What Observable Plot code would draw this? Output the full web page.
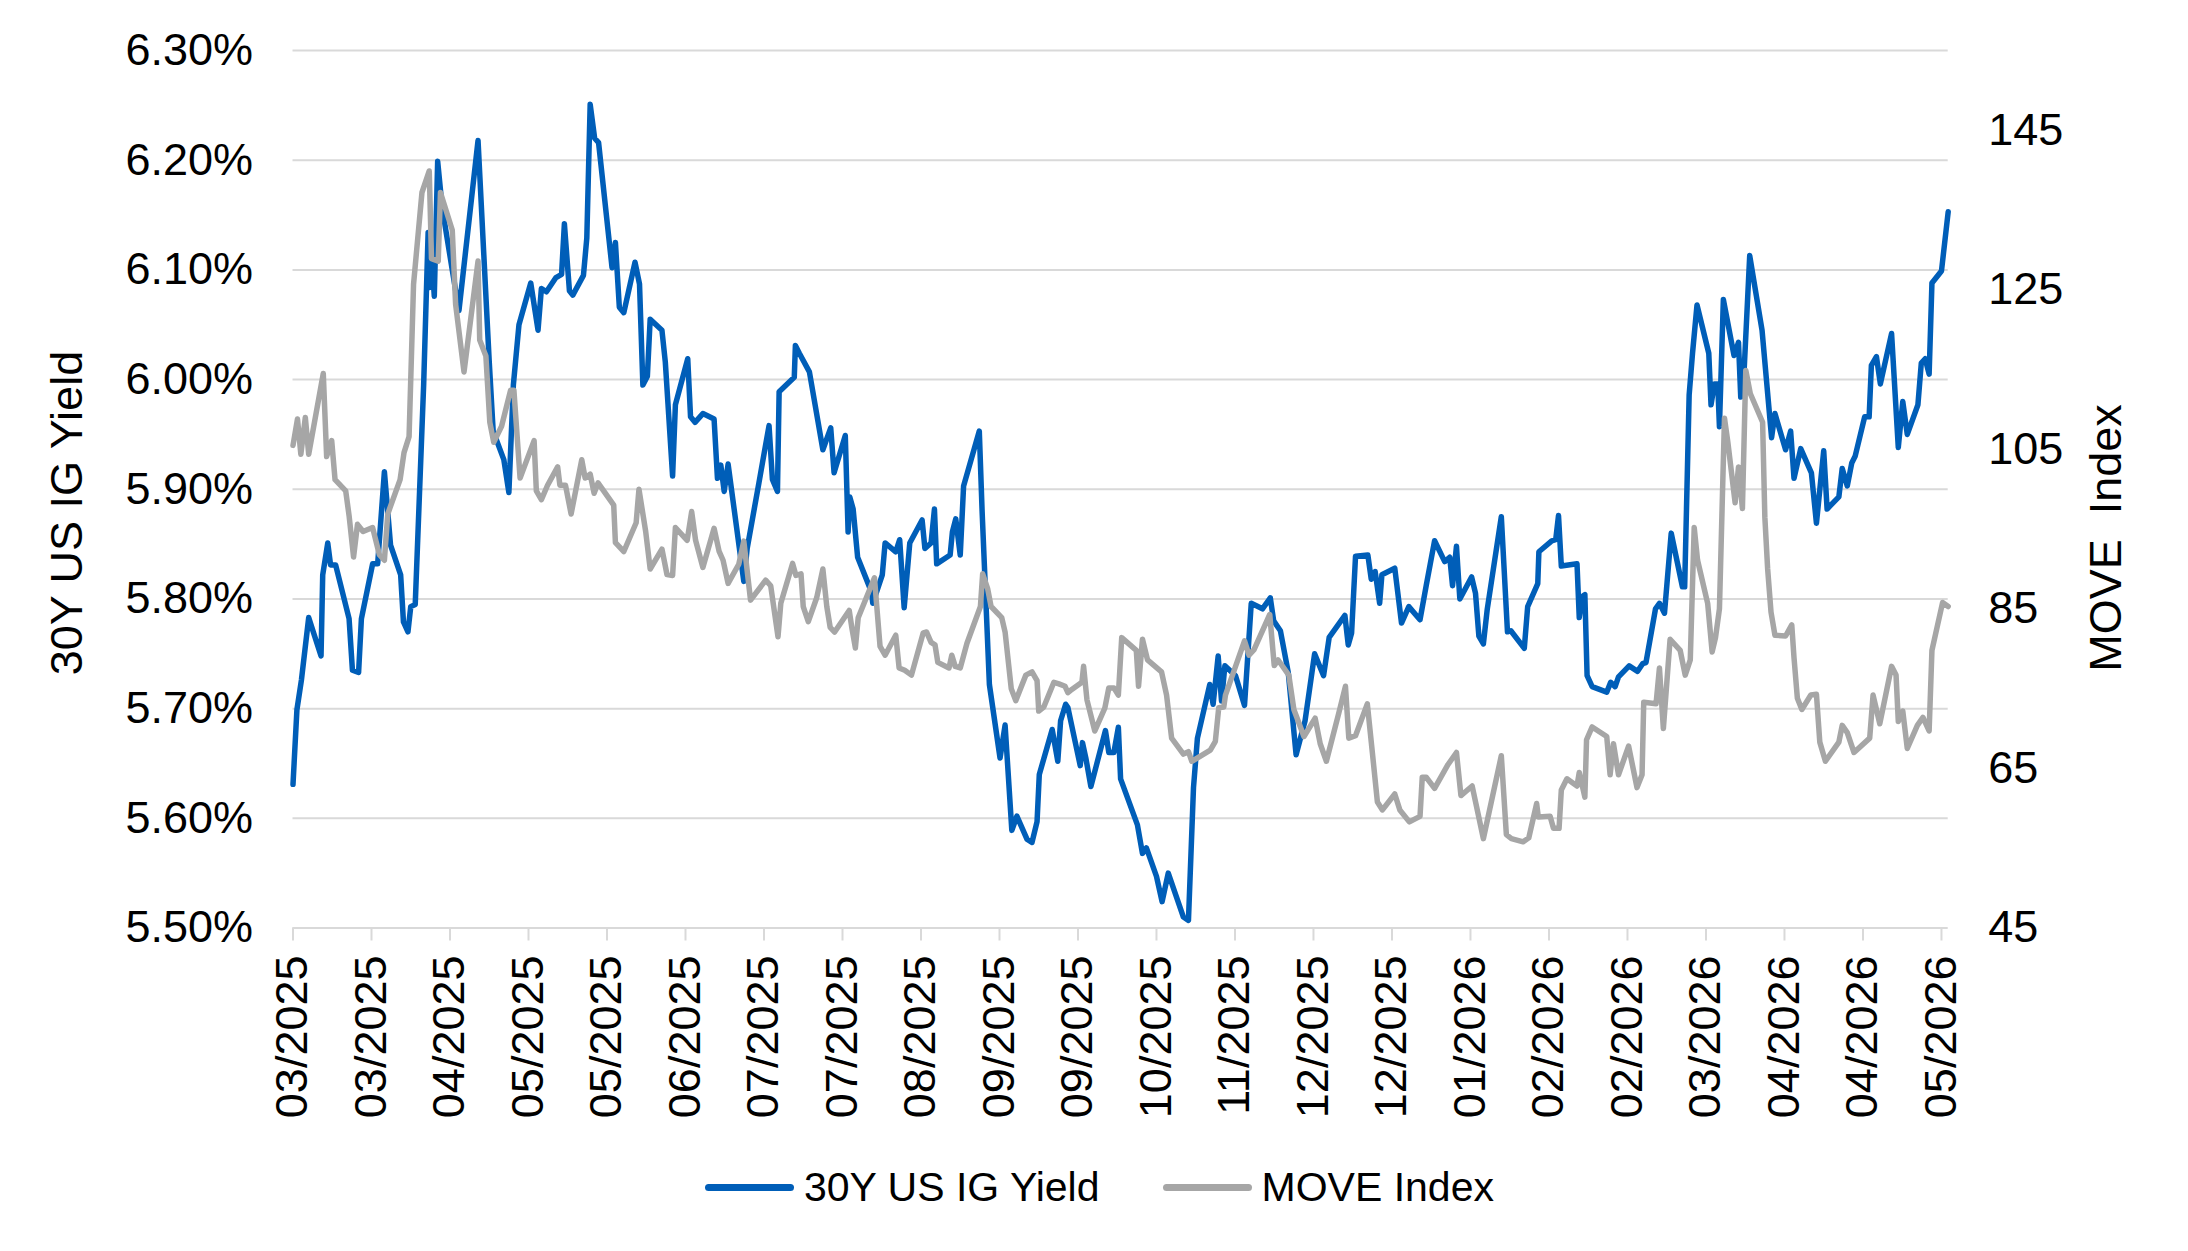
<!DOCTYPE html>
<html>
<head>
<meta charset="utf-8">
<script src="https://cdn.jsdelivr.net/npm/d3@7"></script>
<script src="https://cdn.jsdelivr.net/npm/@observablehq/plot@0.6"></script>
<style>
  html, body { margin: 0; padding: 0; background: #fff; }
  body { width: 2188px; height: 1251px; overflow: hidden; font-family: "Liberation Sans", Arial, sans-serif; }
  #legend { height: 74px; display: flex; align-items: center; padding-left: 705px; font-size: 41px; color: #000; }
  .item { display: flex; align-items: center; }
  .sw { display: inline-block; width: 89px; height: 7px; border-radius: 3.5px; margin-right: 10px; }
</style>
</head>
<body>
<div id="chart"></div>
<div id="legend"></div>
<script>
// ---- Data (trading-day index along the category axis) ----
const tickLabels = ["03/2025","03/2025","04/2025","05/2025","05/2025","06/2025","07/2025","07/2025","08/2025","09/2025","09/2025","10/2025","11/2025","12/2025","12/2025","01/2026","02/2026","02/2026","03/2026","04/2026","04/2026","05/2026"];
const tickDays = [0,14,28,42,56,70,84,98,112,126,140,154,168,182,196,210,224,238,252,266,280,294];
const yieldTicks = [5.5,5.6,5.7,5.8,5.9,6.0,6.1,6.2,6.3];
const moveTicks = [45,65,85,105,125,145];

const igDay = [0,0.7,1.5,2.8,5.0,5.3,6.2,6.7,7.6,10.0,10.6,11.7,12.2,14.2,15.1,16.3,17.4,19.2,19.7,20.5,21.0,21.8,23.3,24.1,24.4,24.8,25.2,25.8,26.6,28.4,29.6,33.0,35.0,35.7,37.6,38.5,39.3,40.3,42.4,43.7,44.3,45.2,46.9,47.9,48.4,49.3,49.9,51.8,52.4,53.0,53.8,54.5,56.9,57.5,58.2,59.0,61.0,61.8,62.4,63.2,63.7,65.8,66.4,67.7,68.2,70.4,70.9,71.7,73.1,75.1,75.7,76.3,76.9,77.6,80.4,81.0,83.1,84.9,85.5,86.4,86.7,89.4,89.6,90.3,92.1,94.5,95.9,96.5,98.5,99.0,99.3,99.9,100.7,103.2,103.4,105.1,105.6,107.5,108.2,109.0,110.0,112.2,112.7,113.8,114.4,114.8,117.2,117.6,118.2,119.0,119.6,122.4,122.9,124.2,126.1,127.0,128.2,129.1,130.9,131.8,132.7,133.1,135.4,136.4,136.9,137.8,138.2,140.4,140.8,141.4,142.3,144.9,145.5,146.4,147.2,147.6,150.6,151.5,152.2,154.0,155.0,156.1,158.8,159.7,160.6,161.3,163.5,164.1,165.0,165.6,166.2,168.1,169.7,170.9,172.9,174.3,174.9,176.1,177.5,178.9,180.5,182.2,183.8,184.8,187.6,188.2,188.8,189.5,191.7,192.3,193.0,193.8,194.2,196.5,197.7,199.0,201.0,202.1,203.6,205.4,206.3,206.8,207.5,208.1,210.2,210.9,211.5,212.3,213.0,215.5,216.6,217.2,219.6,220.2,222.0,222.2,224.5,225.2,225.7,226.2,229.0,229.4,229.9,230.4,230.8,231.7,234.3,235.0,235.8,236.4,238.3,239.8,240.7,241.3,243.0,243.7,244.6,245.8,247.8,248.2,249.0,249.6,250.4,252.5,252.9,253.5,254.1,254.4,255.1,257.0,257.8,258.2,258.8,259.8,262.0,263.7,264.3,266.2,267.1,267.7,268.9,270.8,271.7,273.0,273.6,275.7,276.3,277.2,278.0,278.6,280.3,281.1,281.5,282.4,283.1,285.1,286.3,287.1,287.9,289.8,290.4,291.1,291.8,292.3,294.0,295.2];
const igYield = [5.631,5.699,5.726,5.783,5.748,5.822,5.851,5.831,5.831,5.782,5.735,5.733,5.782,5.832,5.832,5.916,5.849,5.822,5.779,5.770,5.793,5.795,5.995,6.134,6.084,6.108,6.076,6.199,6.157,6.100,6.063,6.218,6.016,5.953,5.927,5.897,5.995,6.050,6.088,6.045,6.083,6.080,6.093,6.096,6.142,6.081,6.077,6.095,6.129,6.251,6.220,6.216,6.102,6.125,6.066,6.061,6.107,6.087,5.995,6.003,6.055,6.045,6.016,5.912,5.977,6.019,5.966,5.961,5.969,5.964,5.910,5.922,5.898,5.923,5.816,5.846,5.906,5.958,5.909,5.898,5.989,6.002,6.031,6.024,6.007,5.936,5.956,5.915,5.949,5.861,5.893,5.882,5.838,5.806,5.796,5.822,5.851,5.843,5.854,5.792,5.851,5.872,5.846,5.851,5.882,5.832,5.840,5.861,5.873,5.840,5.903,5.953,5.880,5.722,5.655,5.685,5.589,5.602,5.581,5.578,5.597,5.640,5.681,5.652,5.689,5.704,5.701,5.648,5.669,5.655,5.629,5.680,5.660,5.660,5.683,5.636,5.594,5.568,5.573,5.547,5.524,5.550,5.510,5.507,5.628,5.673,5.722,5.704,5.748,5.707,5.739,5.730,5.703,5.796,5.791,5.801,5.780,5.771,5.733,5.658,5.689,5.750,5.730,5.765,5.785,5.758,5.769,5.839,5.840,5.818,5.825,5.796,5.822,5.828,5.778,5.793,5.781,5.812,5.853,5.834,5.838,5.812,5.848,5.800,5.820,5.805,5.766,5.759,5.791,5.875,5.770,5.771,5.755,5.793,5.814,5.843,5.853,5.854,5.876,5.830,5.832,5.783,5.802,5.804,5.730,5.720,5.715,5.724,5.720,5.729,5.739,5.734,5.741,5.742,5.791,5.796,5.787,5.860,5.811,5.811,5.986,6.024,6.068,6.024,5.977,5.996,5.996,5.957,6.073,6.022,6.034,5.984,6.008,6.113,6.045,5.947,5.969,5.936,5.953,5.910,5.937,5.915,5.869,5.935,5.882,5.893,5.919,5.903,5.924,5.930,5.966,5.966,6.013,6.021,5.996,6.042,5.938,5.980,5.950,5.977,6.015,6.019,6.005,6.088,6.099,6.153];

const moveDay = [0,0.8,1.4,2.2,2.8,5.4,6.0,6.9,7.5,9.4,10.0,10.8,11.5,12.5,14.2,15.4,16.3,16.9,19.1,19.8,20.7,21.5,23.0,24.3,24.7,25.9,26.3,28.4,29.0,30.5,33.0,33.3,34.4,35.1,35.8,37.2,38.8,39.4,40.5,43.0,43.4,44.3,45.4,47.2,47.6,48.6,49.6,51.5,52.1,53.0,53.7,54.4,57.2,57.5,59.0,61.2,61.7,62.9,63.7,65.8,66.7,67.7,68.2,70.3,71.1,71.8,73.1,75.1,76.0,76.7,77.6,79.5,80.4,81.6,84.3,85.2,86.5,87.0,89.1,89.7,90.6,91.0,91.9,93.4,94.5,95.2,95.8,96.6,99.2,99.7,100.3,100.8,103.7,104.7,105.6,107.5,108.1,109.1,110.3,112.4,113.0,113.8,114.5,115.0,117.0,117.5,118.1,119.0,120.2,122.6,123.0,123.9,124.5,126.4,127.0,128.1,128.9,130.7,131.8,132.7,133.0,133.9,135.7,136.6,137.7,138.2,138.9,140.7,141.0,141.6,143.0,144.8,145.5,146.4,147.2,147.8,150.4,150.8,151.5,152.4,154.9,155.8,156.7,158.8,159.7,160.3,163.6,164.5,165.1,166.0,166.3,168.1,169.7,170.5,171.4,174.2,175.0,175.7,177.6,178.5,180.3,182.3,183.2,184.3,186.5,187.7,188.3,189.5,191.6,192.5,193.4,194.3,196.5,197.4,199.1,201.0,201.4,202.1,203.6,206.0,207.5,208.3,210.3,212.3,215.5,216.4,217.3,219.4,220.4,221.8,222.1,224.2,224.8,225.8,226.2,227.2,229.0,229.4,230.4,230.7,231.7,234.3,234.9,235.5,236.4,238.2,239.7,240.6,240.9,243.1,243.7,244.4,245.6,247.4,248.3,249.2,249.9,250.5,252.3,253.1,253.7,254.4,255.3,255.9,257.2,257.8,258.5,259.1,259.9,262.1,262.5,263.0,263.6,264.3,266.2,267.3,267.7,268.3,269.1,270.7,271.7,272.3,273.3,275.7,276.3,277.2,278.4,281.2,281.8,283.0,285.1,285.9,286.3,287.1,287.9,289.7,290.7,291.8,292.3,294.2,295.2];
const moveValue = [105.5,108.8,104.4,109.0,104.4,114.5,104.1,106.1,101.2,99.8,96.7,91.5,95.6,94.7,95.2,91.8,91.1,96.9,101.2,104.6,106.6,125.7,137.2,139.9,128.9,128.6,137.2,132.5,123.2,114.7,128.6,118.7,116.7,108.4,105.9,107.9,112.4,112.4,101.4,106.1,99.8,98.7,100.5,102.8,100.5,100.5,96.9,103.7,101.4,101.9,99.5,100.8,98.0,93.3,92.2,95.8,100.0,94.7,90.0,92.5,89.3,89.2,95.2,93.6,97.2,93.6,90.2,95.1,92.2,91.1,88.2,90.6,93.5,86.1,88.6,87.9,81.5,85.7,90.7,89.2,89.4,85.3,83.4,86.4,90.0,85.3,82.7,82.1,84.8,82.5,80.1,83.9,88.9,80.3,79.2,81.7,77.6,77.3,76.7,82.0,82.1,80.8,80.5,78.3,77.6,79.2,77.8,77.6,80.7,85.3,89.4,87.5,85.3,83.9,82.1,75.0,73.5,76.7,77.1,76.0,72.2,72.7,75.8,75.6,75.3,74.5,74.9,75.8,77.8,73.6,69.7,72.6,75.1,75.1,74.2,81.4,79.8,75.3,81.2,78.6,77.1,74.2,68.8,66.8,67.1,65.9,67.3,68.4,72.6,72.7,74.2,77.8,81.0,79.2,79.9,84.3,77.9,78.6,76.7,72.4,69.0,71.3,68.1,65.9,71.9,75.3,68.8,69.1,73.1,67.0,60.8,59.8,61.8,59.8,58.3,59.0,63.9,63.9,62.5,65.5,67.0,61.6,62.8,56.2,66.6,56.7,56.2,55.8,56.3,60.6,58.9,59.0,57.5,57.5,62.3,63.7,62.8,64.5,61.4,68.6,70.2,69.0,64.2,68.1,64.2,67.8,62.6,64.2,73.3,73.1,77.6,70.0,81.2,79.8,76.7,78.6,95.2,91.1,85.7,79.6,81.4,85.0,108.9,105.9,98.3,102.8,97.6,114.9,112.0,108.4,96.5,90.0,84.6,81.7,81.6,83.0,78.9,73.8,72.4,74.2,74.3,68.3,65.9,68.3,70.4,69.5,67.0,68.8,74.2,70.6,77.8,76.7,70.9,72.2,67.5,70.4,71.4,69.7,79.8,85.8,85.3];

// ---- Styling ----
const BLUE = "#005EB8";
const GRAY = "#A6A6A6";
const GRID = "#D9D9D9";
const FONT = "'Liberation Sans', Arial, sans-serif";

// secondary axis (MOVE 45..155) mapped onto the primary (5.50%..6.30%)
const Y0 = 5.5, Y1 = 6.3, M0 = 45, M1 = 155;
const moveToY = m => Y0 + (m - M0) / (M1 - M0) * (Y1 - Y0);
const yToMove = y => M0 + (y - Y0) / (Y1 - Y0) * (M1 - M0);

const ig = igDay.map((d, i) => ({day: d, v: igYield[i]}));
const mv = moveDay.map((d, i) => ({day: d, v: moveValue[i]}));

const W = 2188, H = 1150;
const chart = Plot.plot({
  width: W,
  height: H,
  marginLeft: 292.5,
  marginRight: 240.3,
  marginTop: 50,
  marginBottom: 222.5,
  style: {fontFamily: FONT, fontSize: "45px", color: "#000", background: "#fff", overflow: "visible"},
  x: {domain: [0, 295.2]},
  y: {domain: [Y0, Y1]},
  marks: [
    Plot.ruleY(yieldTicks, {stroke: GRID, strokeWidth: 2}),
    Plot.axisX({
      ticks: tickDays,
      tickFormat: (d) => tickLabels[tickDays.indexOf(d)],
      tickRotate: -90,
      tickSize: 13,
      tickPadding: 14.5,
      stroke: GRID,
      strokeWidth: 2,
      fill: "#000",
      fontSize: 45,
      label: null
    }),
    Plot.axisY({
      anchor: "left",
      ticks: yieldTicks,
      tickFormat: d => d.toFixed(2) + "%",
      tickSize: 0,
      tickPadding: 40,
      fontSize: 45,
      label: null
    }),
    Plot.axisY({
      anchor: "right",
      ticks: moveTicks.map(moveToY),
      tickFormat: d => String(Math.round(yToMove(d))),
      tickSize: 0,
      tickPadding: 40,
      fontSize: 45,
      label: null
    }),
    Plot.line(ig, {x: "day", y: "v", stroke: BLUE, strokeWidth: 5.5, strokeLinejoin: "round", strokeLinecap: "round"}),
    Plot.line(mv, {x: "day", y: d => moveToY(d.v), stroke: GRAY, strokeWidth: 5.5, strokeLinejoin: "round", strokeLinecap: "round"})
  ]
});
document.getElementById("chart").appendChild(chart);

// axis titles
const svg = d3.select(chart);
svg.append("text")
  .attr("transform", "translate(66,513) rotate(-90)")
  .attr("text-anchor", "middle")
  .attr("dominant-baseline", "central")
  .attr("font-size", 45)
  .attr("font-family", FONT)
  .attr("fill", "#000")
  .text("30Y US IG Yield");
svg.append("text")
  .attr("transform", "translate(2105,538) rotate(-90)")
  .attr("text-anchor", "middle")
  .attr("dominant-baseline", "central")
  .attr("font-size", 45)
  .attr("font-family", FONT)
  .attr("fill", "#000")
  .style("white-space", "pre")
  .text("MOVE  Index");

// legend
const legendItems = [{label: "30Y US IG Yield", color: BLUE}, {label: "MOVE Index", color: GRAY}];
const legend = d3.select("#legend");
legendItems.forEach((it, i) => {
  const item = legend.append("div").attr("class", "item").style("margin-left", i ? "63px" : "0px");
  item.append("span").attr("class", "sw").style("background", it.color);
  item.append("span").text(it.label);
});
</script>
</body>
</html>
